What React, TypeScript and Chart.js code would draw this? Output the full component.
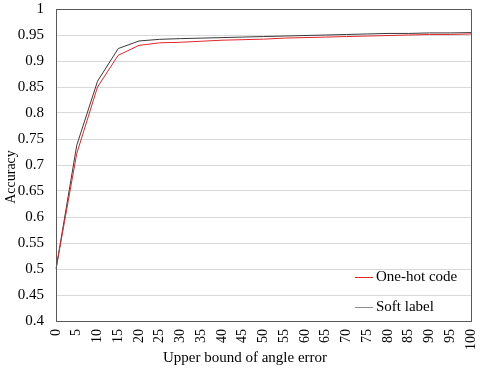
import React, { useEffect, useRef } from "react";
import { Chart, registerables } from "chart.js";

Chart.register(...registerables);

const categories = ["0","5","10","15","20","25","30","35","40","45","50","55","60","65","70","75","80","85","90","95","100"];
const oneHot = [0.5,0.722,0.85,0.911,0.930,0.935,0.936,0.938,0.940,0.941,0.942,0.944,0.945,0.946,0.947,0.948,0.949,0.950,0.951,0.951,0.952];
const softLabel = [0.5,0.738,0.861,0.924,0.9385,0.9417,0.943,0.944,0.945,0.946,0.947,0.948,0.949,0.950,0.951,0.952,0.953,0.953,0.954,0.954,0.9546];
const seriesNames = ["One-hot code", "Soft label"];
const seriesColors = ["#e0262b", "#3a3a3a"];
const legendColors = ["#e0262b", "#8c8c8c"];
const xTitle = "Upper bound of angle error";
const yTitle = "Accuracy";

const FONT = "'Liberation Serif', 'Times New Roman', serif";

export default function App() {
  const ref = useRef<HTMLCanvasElement | null>(null);
  useEffect(() => {
    document.body.style.margin = "0";
    const ctx = ref.current!;
    const overlay = {
      id: "overlay",
      afterDraw(chart: any) {
        const c = chart.ctx;
        const a = chart.chartArea;
        c.save();
        c.strokeStyle = "#595959";
        c.lineWidth = 1;
        c.beginPath();
        c.rect(Math.round(a.left) + 0.5, Math.round(a.top) + 0.5, Math.round(a.right - a.left), Math.round(a.bottom - a.top));
        c.stroke();
        c.restore();
        // y title
        c.save();
        c.fillStyle = "#000";
        c.font = `14px ${FONT}`;
        c.textAlign = "center";
        c.textBaseline = "middle";
        c.translate(11, 177);
        c.rotate(-Math.PI / 2);
        c.fillText(yTitle, 0, 0);
        c.restore();
        // x title
        c.save();
        c.fillStyle = "#000";
        c.font = `15px ${FONT}`;
        c.textAlign = "center";
        c.textBaseline = "middle";
        c.fillText(xTitle, 245, 358);
        c.restore();
        // legend
        const ys = [a.bottom - 44, a.bottom - 14];
        for (let i = 0; i < seriesNames.length; i++) {
          const y = Math.round(ys[i]);
          c.save();
          c.fillStyle = legendColors[i];
          c.fillRect(355, y, 18, 1);
          c.fillStyle = "#000";
          c.font = `15px ${FONT}`;
          c.textAlign = "left";
          c.textBaseline = "middle";
          c.fillText(seriesNames[i], 376, ys[i]);
          c.restore();
        }
      },
    };
    const chart = new Chart(ctx, {
      type: "line",
      data: {
        labels: categories,
        datasets: [
          { label: seriesNames[0], data: oneHot, borderColor: seriesColors[0], borderWidth: 1, pointRadius: 0, tension: 0, fill: false },
          { label: seriesNames[1], data: softLabel, borderColor: seriesColors[1], borderWidth: 1, pointRadius: 0, tension: 0, fill: false },
        ],
      },
      options: {
        animation: false,
        responsive: false,
        maintainAspectRatio: false,
        layout: { padding: { left: 0, right: 9, top: 9, bottom: 0 } },
        plugins: { legend: { display: false }, tooltip: { enabled: false } },
        scales: {
          x: {
            offset: false,
            grid: { display: false, drawTicks: false },
            border: { display: true, color: "#595959" },
            ticks: {
              color: "#000",
              font: { family: FONT, size: 14 },
              maxRotation: 90,
              minRotation: 90,
              autoSkip: false,
              padding: 8,
            },
            title: { display: false },
            afterFit(scale: any) { scale.height = 51; scale.paddingLeft = 0; scale.paddingRight = 0; },
          },
          y: {
            min: 0.4,
            max: 1,
            grid: { color: "#d9d9d9", drawTicks: false },
            border: { display: true, color: "#595959" },
            ticks: {
              stepSize: 0.05,
              color: "#000",
              font: { family: FONT, size: 15 },
              padding: 12,
              callback: (v: any) => String(parseFloat(Number(v).toFixed(2))),
            },
            afterFit(scale: any) { scale.width = 56; scale.paddingTop = 0; scale.paddingBottom = 0; },
          },
        },
      },
      plugins: [overlay],
    });
    return () => chart.destroy();
  }, []);
  return (
    <div style={{ position: "absolute", left: 0, top: 0, width: 480, height: 372, background: "#fff" }}>
      <canvas ref={ref} width={480} height={372} style={{ display: "block" }} />
    </div>
  );
}
